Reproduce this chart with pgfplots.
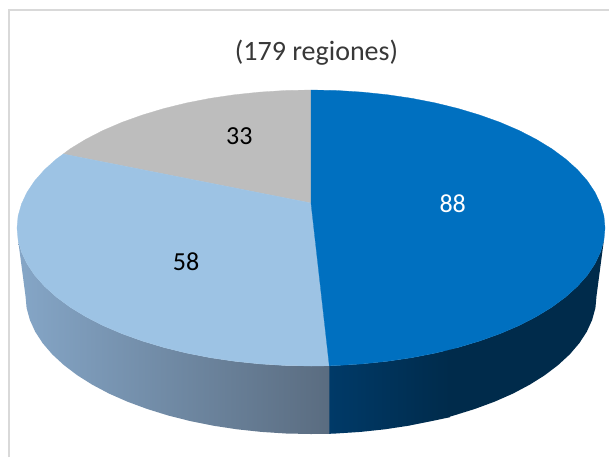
\documentclass[border=0pt]{standalone}
\usepackage{pgfplots}
\pgfplotsset{compat=1.18}
\usepackage{fontspec}
\setmainfont{Carlito}
\definecolor{cblue}{RGB}{0,112,192}
\definecolor{clight}{RGB}{157,195,228}
\definecolor{cgrey}{RGB}{189,189,189}
\definecolor{cframe}{RGB}{217,217,217}
\definecolor{sideLa}{RGB}{133,166,199}
\definecolor{sideLb}{RGB}{90,108,128}
\definecolor{sideRa}{RGB}{0,58,104}
\definecolor{sideRb}{RGB}{0,43,75}
\begin{document}
\begin{tikzpicture}
\begin{axis}[
  scale only axis, width=456.75pt, height=342.75pt,
  xmin=0, xmax=609, ymin=0, ymax=457, y dir=reverse,
  hide axis, clip=true,
]
% page background
\addplot[fill=white, draw=none, mark=none] coordinates {(0,0)(609,0)(609,457)(0,457)} --cycle;
% chart frame
\addplot[cframe, line width=1.5pt, mark=none] coordinates {(9,457)(9,10)(609,10)};
% side, right flat part
\addplot[fill=sideRb, draw=none, mark=none] coordinates {
(445,350)(458,347.5)(479.6,341)(500,333.7)(518.9,325.6)(536.2,316.7)(551.8,307.2)(565.6,297)(577.5,286.3)(587.3,275.2)(595,263.7)(600.5,252)(603.9,240)
(596.5,296)(595.4,308)(592.1,320)(586.8,331.7)(579.3,343.2)(569.8,354.3)(558.2,365)(544.8,375.2)(529.7,384.7)(512.9,393.6)(494.5,401.7)(474.7,409)(453.8,415.5)(445,418)} --cycle;
% side, right gradient part
\addplot[left color=sideRa, right color=sideRb, draw=none, mark=none] coordinates {
(329.3,365.8)(336.6,365.5)(362.1,363.9)(387.1,361.3)(411.6,357.7)(435.2,353.1)(450,349.5)
(450,417.2)(431.6,421.1)(408.7,425.7)(384.9,429.3)(360.6,431.9)(335.9,433.5)(329.3,433.8)} --cycle;
% side, left gradient part
\addplot[left color=sideLa, right color=sideLb, draw=none, mark=none] coordinates {
(329.3,365.8)(311,366)(285.4,365.5)(259.9,363.9)(234.9,361.3)(210.4,357.7)(186.8,353.1)(164,347.5)(142.4,341)(122,333.7)(103.1,325.6)(85.8,316.7)(70.2,307.2)(56.4,297)(44.5,286.3)(34.7,275.2)(27,263.7)(21.5,252)(18.1,240)
(25.5,296)(26.6,308)(29.9,320)(35.2,331.7)(42.7,343.2)(52.2,354.3)(63.8,365)(77.2,375.2)(92.3,384.7)(109.1,393.6)(127.5,401.7)(147.3,409)(168.2,415.5)(190.4,421.1)(213.3,425.7)(237.1,429.3)(261.4,431.9)(286.1,433.5)(311,434)(329.3,433.8)} --cycle;
% top: 33
\addplot[fill=cgrey, draw=cgrey, line width=0.2pt, mark=none] coordinates {
(311,203)(63.3,154)(70.2,148.8)(85.8,139.3)(103.1,130.4)(122,122.3)(142.4,115)(164,108.5)(186.8,102.9)(210.4,98.3)(234.9,94.7)(259.9,92.1)(285.4,90.5)(311,90)} --cycle;
% top: 58
\addplot[fill=clight, draw=clight, line width=0.2pt, mark=none] coordinates {
(311,203)(329.3,365.8)(311,366)(285.4,365.5)(259.9,363.9)(234.9,361.3)(210.4,357.7)(186.8,353.1)(164,347.5)(142.4,341)(122,333.7)(103.1,325.6)(85.8,316.7)(70.2,307.2)(56.4,297)(44.5,286.3)(34.7,275.2)(27,263.7)(21.5,252)(18.1,240)(17,228)(18.1,216)(21.5,204)(27,192.3)(34.7,180.8)(44.5,169.7)(56.4,159)(63.3,154)} --cycle;
% top: 88
\addplot[fill=cblue, draw=cblue, line width=0.2pt, mark=none] coordinates {
(311,203)(311,90)(336.6,90.5)(362.1,92.1)(387.1,94.7)(411.6,98.3)(435.2,102.9)(458,108.5)(479.6,115)(500,122.3)(518.9,130.4)(536.2,139.3)(551.8,148.8)(565.6,159)(577.5,169.7)(587.3,180.8)(595,192.3)(600.5,204)(603.9,216)(605,228)(603.9,240)(600.5,252)(595,263.7)(587.3,275.2)(577.5,286.3)(565.6,297)(551.8,307.2)(536.2,316.7)(518.9,325.6)(500,333.7)(479.6,341)(458,347.5)(435.2,353.1)(411.6,357.7)(387.1,361.3)(362.1,363.9)(336.6,365.5)(329.3,365.8)} --cycle;
% texts
\node[anchor=base, inner sep=0pt, text=black!78, font=\fontsize{21pt}{25pt}\selectfont] at (axis cs:316.5,60) {(179 regiones)};
\node[anchor=base, inner sep=0pt, text=black, font=\fontsize{19.5pt}{23pt}\selectfont] at (axis cs:239.3,144.5) {33};
\node[anchor=base, inner sep=0pt, text=black, font=\fontsize{19.5pt}{23pt}\selectfont] at (axis cs:186,270.5) {58};
\node[anchor=base, inner sep=0pt, text=white, font=\fontsize{19.5pt}{23pt}\selectfont] at (axis cs:452.7,212.5) {88};
\end{axis}
\end{tikzpicture}
\end{document}
